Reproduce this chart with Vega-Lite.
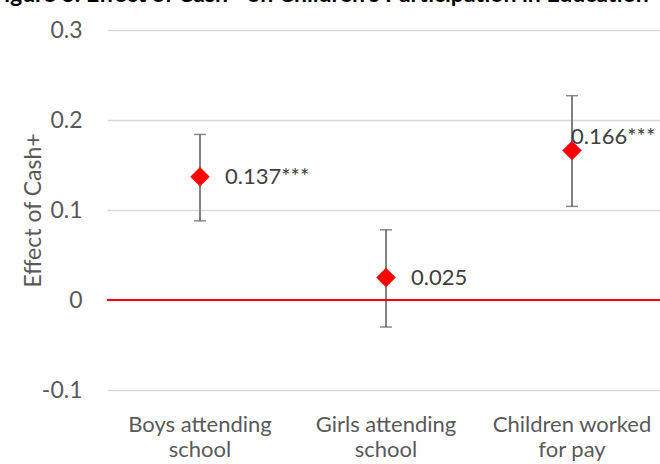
{
  "$schema": "https://vega.github.io/schema/vega-lite/v6.json",
  "autosize": "none",
  "width": 558,
  "height": 360,
  "padding": {"left": 107, "top": 30, "right": 0, "bottom": 74},
  "background": "white",
  "title": {
    "text": "Figure 3: Effect of Cash+ on Children's Participation in Education",
    "font": "Lato",
    "fontSize": 23,
    "fontWeight": "bold",
    "color": "#000000",
    "anchor": "middle",
    "baseline": "alphabetic",
    "offset": 6,
    "dy": 12,
    "dx": -66
  },
  "config": {
    "font": "Lato",
    "view": {"stroke": null}
  },
  "data": {
    "values": [
      {"cat": "Boys attending|school", "est": 0.137, "lo": 0.088, "hi": 0.184, "label": "0.137***", "pos": "right"},
      {"cat": "Girls attending|school", "est": 0.025, "lo": -0.030, "hi": 0.078, "label": "0.025", "pos": "right"},
      {"cat": "Children worked|for pay", "est": 0.166, "lo": 0.104, "hi": 0.227, "label": "0.166***", "pos": "above"}
    ]
  },
  "encoding": {
    "x": {
      "field": "cat",
      "type": "nominal",
      "sort": null,
      "scale": {"paddingInner": 0, "paddingOuter": 0},
      "axis": {
        "title": null,
        "labelAngle": 0,
        "domain": false,
        "ticks": false,
        "grid": false,
        "labelExpr": "split(datum.label, '|')",
        "labelFont": "Lato",
        "labelFontSize": 22,
        "labelColor": "#595959",
        "labelLineHeight": 25,
        "labelPadding": 24,
        "labelBaseline": "top"
      }
    }
  },
  "layer": [
    {
      "mark": {"type": "rule", "color": "#595959", "strokeWidth": 1.5},
      "encoding": {
        "y": {
          "field": "lo",
          "type": "quantitative",
          "scale": {"domain": [-0.1, 0.3], "nice": false, "zero": false},
          "axis": {
            "title": "Effect of Cash+",
            "values": [-0.1, 0, 0.1, 0.2, 0.3],
            "labelExpr": "datum.value == 0 ? '0' : (datum.value < 0 ? '-' + format(-datum.value, '.1f') : format(datum.value, '.1f'))",
            "domain": false,
            "ticks": false,
            "grid": true,
            "gridColor": "#d9d9d9",
            "gridWidth": 1.3,
            "labelFont": "Lato",
            "labelFontSize": 23,
            "labelColor": "#595959",
            "labelPadding": 25,
            "titleFont": "Lato",
            "titleFontSize": 23,
            "titleFontWeight": "normal",
            "titleColor": "#595959",
            "titleX": -74,
            "titleY": 180,
            "titleAngle": -90,
            "titleAlign": "center",
            "titleBaseline": "middle"
          }
        },
        "y2": {"field": "hi"}
      }
    },
    {
      "mark": {"type": "tick", "orient": "horizontal", "color": "#595959", "size": 12, "thickness": 1.5},
      "encoding": {"y": {"field": "lo", "type": "quantitative"}}
    },
    {
      "mark": {"type": "tick", "orient": "horizontal", "color": "#595959", "size": 12, "thickness": 1.5},
      "encoding": {"y": {"field": "hi", "type": "quantitative"}}
    },
    {
      "mark": {"type": "rule", "color": "#ff0000", "strokeWidth": 1.5},
      "encoding": {"y": {"datum": 0, "type": "quantitative"}, "x": {"value": 0}, "x2": {"value": 600}}
    },
    {
      "mark": {"type": "point", "shape": "diamond", "filled": true, "color": "#ff0000", "size": 380, "opacity": 1},
      "encoding": {"y": {"field": "est", "type": "quantitative"}}
    },
    {
      "transform": [{"filter": "datum.pos == 'right'"}],
      "mark": {"type": "text", "align": "left", "baseline": "middle", "dx": 25, "fontSize": 22, "color": "#404040", "font": "Lato"},
      "encoding": {"y": {"field": "est", "type": "quantitative"}, "text": {"field": "label"}}
    },
    {
      "transform": [{"filter": "datum.pos == 'above'"}],
      "mark": {"type": "text", "align": "left", "baseline": "middle", "dx": -1, "dy": -14, "fontSize": 22, "color": "#404040", "font": "Lato"},
      "encoding": {"y": {"field": "est", "type": "quantitative"}, "text": {"field": "label"}}
    }
  ]
}
